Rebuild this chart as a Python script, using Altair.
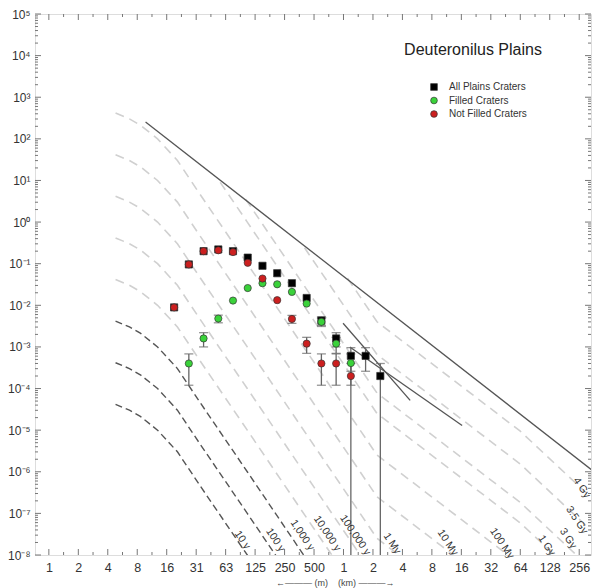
import altair as alt
import pandas as pd
import numpy as np

W, H = 556, 541
FONT = "Liberation Sans"

# ---------------- crater data ----------------
D_BINS = [0.0186, 0.0263, 0.0372, 0.0526, 0.0743, 0.1051, 0.1487, 0.2102,
          0.2973, 0.4204, 0.5946, 0.8409, 1.1892, 1.6818, 2.3784]   # km
ALL_N = [0.0089, 0.096, 0.20, 0.22, 0.20, 0.14, 0.089, 0.059, 0.034, 0.015,
         0.0043, 0.0016, 0.00061, 0.00061, 0.0002]
FILLED_N = [None, 0.0004, 0.0016, 0.0048, 0.013, 0.026, 0.034, 0.032, 0.021,
            0.011, 0.004, 0.0012, 0.00041, None, None]
NOTFILLED_N = [0.0089, 0.096, 0.20, 0.21, 0.19, 0.105, 0.044, 0.0133, 0.0047,
               0.0012, 0.0004, 0.0004, 0.0002, None, None]
SERIES = ["All Plains Craters", "Filled Craters", "Not Filled Craters"]

# error bars: (bin index, low, high); 1e-8 means the bar reaches the axis
ALL_ERR = [(10, 0.0033, 0.0053), (11, 0.0010, 0.0022), (12, 0.00026, 0.00096),
           (13, 0.00026, 0.00096), (14, 1e-8, 0.0004)]
FILLED_ERR = [(1, 0.00012, 0.00068), (2, 0.0010, 0.0022), (3, 0.0038, 0.0058),
              (10, 0.0031, 0.0049), (11, 0.0007, 0.0017), (12, 0.00012, 0.00068)]
NOTFILLED_ERR = [(8, 0.0037, 0.0057), (9, 0.0007, 0.0017), (10, 0.00012, 0.00068),
                 (11, 0.00012, 0.00068), (12, 1e-8, 0.0004)]

# ---------------- isochrons ----------------
ISO_D = [0.00469, 0.0065, 0.0084, 0.0126, 0.0201, 0.0346, 0.104, 0.5, 1.0,
         2.2, 10.0, 64.0, 338.0]                       # km
ISO_LOGN_1GY = [3.62, 3.48, 3.33, 3.0, 2.48, 1.65, 0.0, -2.37, -3.41,
                -4.60, -5.78, -7.23, -8.82]
ISO_NAMES = ["10 y", "100 y", "1,000 y", "10,000 y", "100,000 y", "1 My",
             "10 My", "100 My", "1 Gy", "3 Gy", "3.5 Gy", "4 Gy"]
ISO_FACTOR = [1e-8, 1e-7, 1e-6, 1e-5, 1e-4, 1e-3, 1e-2, 1e-1, 1.0, 3.1, 26.0, 160.0]
ISO_START = [0.00469] * 8 + [0.055, 0.1, 0.4, 1.1]
ISO_DARK = [True, True, True] + [False] * 9
ISO_LABEL_D = [0.0927, 0.2012, 0.379, 0.681, 1.317, 3.14, 11.6, 41.6, 119.0,
               197.0, 242.0, 272.0]
ISO_LABEL_N = [2.3e-8, 2.3e-8, 3.0e-8, 3.3e-8, 3.0e-8, 1.9e-8, 2.0e-8, 1.9e-8,
               1.7e-8, 2.5e-8, 6.9e-8, 4.1e-7]

# solid reference lines
SAT_D = [0.0095, 345.0]
SAT_N = [254.0, 1.1e-6]
LINE_A_D = [0.99, 4.8]
LINE_A_N = [0.0037, 5.2e-5]
LINE_B_D = [1.16, 16.3]
LINE_B_N = [0.001, 1.3e-5]

# axis ticks
X_TICKS = [2.0 ** k for k in range(-10, 9)]
X_LABELS = ["1", "2", "4", "8", "16", "31", "63", "125", "250", "500",
            "1", "2", "4", "8", "16", "32", "64", "128", "256"]
X_MINOR = [2.0 ** (k + 0.5) for k in range(-11, 9)]
Y_TICKS = [10.0 ** n for n in range(-8, 6)]
Y_SUP = ["⁻⁸", "⁻⁷", "⁻⁶", "⁻⁵", "⁻⁴", "⁻³", "⁻²", "⁻¹", "⁰", "¹", "²", "³", "⁴", "⁵"]
Y_MINOR = [m * 10.0 ** n for n in range(-8, 5) for m in range(2, 10)]

# ---------------- build tables ----------------
pts = []
for s, arr in zip(SERIES, [ALL_N, FILLED_N, NOTFILLED_N]):
    for d, n in zip(D_BINS, arr):
        if n is not None:
            pts.append({"series": s, "D": d, "N": n})
pts = pd.DataFrame(pts)

err = []
for errs in [ALL_ERR, FILLED_ERR, NOTFILLED_ERR]:
    for i, lo, hi in errs:
        err.append({"D": D_BINS[i], "lo": lo, "hi": hi})
err = pd.DataFrame(err)
caps = []
for _, r in err.iterrows():
    caps.append({"D": r["D"], "N": r["hi"]})
    if r["lo"] > 1e-8:
        caps.append({"D": r["D"], "N": r["lo"]})
caps = pd.DataFrame(caps)

iso = []
logd = np.log10(ISO_D)
for name, f, d0, dark in zip(ISO_NAMES, ISO_FACTOR, ISO_START, ISO_DARK):
    ds = [d0] + [d for d in ISO_D if d > d0 * 1.001]
    for k, d in enumerate(ds):
        ln = float(np.interp(np.log10(d), logd, ISO_LOGN_1GY))
        iso.append({"curve": name, "D": d, "N": f * 10 ** ln, "o": k,
                    "dark": "dark" if dark else "light"})
iso = pd.DataFrame(iso)

labels = pd.DataFrame({"t": ISO_NAMES, "D": ISO_LABEL_D, "N": ISO_LABEL_N})
solid = pd.DataFrame({
    "line": ["sat", "sat", "a", "a", "b", "b"],
    "D": SAT_D + LINE_A_D + LINE_B_D,
    "N": SAT_N + LINE_A_N + LINE_B_N,
})

xs = alt.Scale(type="log", base=2, domain=[2 ** -10.47, 2 ** 8.40], nice=False)
ys = alt.Scale(type="log", domain=[1e-8, 1e5], nice=False)

x_axis = alt.Axis(values=X_TICKS, ticks=False, domain=False, grid=False,
                  labelExpr="%s[round(log(datum.value)/LN2)+10]" % str(X_LABELS),
                  labelFont=FONT, labelFontSize=12.5, labelColor="#333",
                  labelPadding=6, labelOverlap=False, labelFlush=False, title=None)
y_axis = alt.Axis(values=Y_TICKS, ticks=False, domain=False, grid=False,
                  labelExpr="'10' + %s[round(log(datum.value)/LN10)+8]" % str(Y_SUP),
                  labelFont=FONT, labelFontSize=12, labelColor="#333",
                  labelPadding=5, labelOverlap=False, labelFlush=False, title=None)

X = alt.X("D:Q", scale=xs, axis=x_axis)
Y = alt.Y("N:Q", scale=ys, axis=y_axis)

iso_dark = alt.Chart(iso[iso.dark == "dark"]).mark_line(
    clip=True, color="#555", strokeWidth=1.4, strokeDash=[7, 4]
).encode(x=X, y=Y, detail="curve:N", order="o:Q")
iso_light = alt.Chart(iso[iso.dark == "light"]).mark_line(
    clip=True, color="#d0d0d0", strokeWidth=1.6, strokeDash=[9, 6]
).encode(x=X, y=Y, detail="curve:N", order="o:Q")

solid_lines = alt.Chart(solid).mark_line(
    clip=True, color="#555", strokeWidth=1.3
).encode(x=X, y=Y, detail="line:N")

err_rules = alt.Chart(err).mark_rule(clip=True, color="#666", strokeWidth=1.3).encode(
    x=X, y=alt.Y("lo:Q", scale=ys, axis=y_axis), y2="hi:Q")
err_caps = alt.Chart(caps).mark_tick(
    clip=True, color="#666", orient="horizontal", size=9, thickness=1.3
).encode(x=X, y=Y)

points = alt.Chart(pts).mark_point(
    filled=True, size=52, opacity=1, stroke="#333", strokeWidth=0.7
).encode(
    x=X, y=Y,
    color=alt.Color("series:N", scale=alt.Scale(domain=SERIES,
                    range=["#000000", "#3ad23a", "#cc1f1f"]),
                    legend=alt.Legend(title=None, orient="none", legendX=394, legendY=68,
                                      labelFont=FONT, labelFontSize=10, labelColor="#333",
                                      symbolSize=45, rowPadding=3.5, labelOffset=10,
                                      padding=0, symbolStrokeColor="#333",
                                      symbolStrokeWidth=0.7)),
    shape=alt.Shape("series:N", scale=alt.Scale(domain=SERIES,
                    range=["square", "circle", "circle"]), legend=None),
    order=alt.Order("o:Q"),
).transform_calculate(o="indexof(%s, datum.series)" % str(SERIES))

iso_text = alt.Chart(labels).mark_text(
    font=FONT, fontSize=10.5, color="#333", angle=56, align="center", baseline="middle"
).encode(x=X, y=Y, text="t:N")

title = alt.Chart(pd.DataFrame({"t": ["Deuteronilus Plains"]})).mark_text(
    font=FONT, fontSize=16, color="#222", align="center", baseline="alphabetic"
).encode(text="t:N", x=alt.value(438), y=alt.value(41))

units_l = alt.Chart(pd.DataFrame({"t": ["←——— (m)"]})).mark_text(
    font=FONT, fontSize=9, color="#444", align="right", baseline="middle"
).encode(text="t:N", x=alt.value(293), y=alt.value(569))
units_r = alt.Chart(pd.DataFrame({"t": ["(km) ———→"]})).mark_text(
    font=FONT, fontSize=9, color="#444", align="left", baseline="middle"
).encode(text="t:N", x=alt.value(303), y=alt.value(569))

# inward frame ticks
xt = pd.DataFrame({"D": X_TICKS})
xm = pd.DataFrame({"D": [v for v in X_MINOR if 2 ** -10.47 < v < 2 ** 8.4]})
yt = pd.DataFrame({"N": Y_TICKS})
ym = pd.DataFrame({"N": Y_MINOR})
TC = "#777"


def xticks(df, length):
    b = alt.Chart(df).mark_rule(color=TC, strokeWidth=1).encode(
        x=X, y=alt.value(H), y2=alt.value(H - length))
    t = alt.Chart(df).mark_rule(color=TC, strokeWidth=1).encode(
        x=X, y=alt.value(0), y2=alt.value(length))
    return b + t


def yticks(df, length):
    l = alt.Chart(df).mark_rule(color=TC, strokeWidth=1).encode(
        y=Y, x=alt.value(0), x2=alt.value(length))
    r = alt.Chart(df).mark_rule(color=TC, strokeWidth=1).encode(
        y=Y, x=alt.value(W), x2=alt.value(W - length))
    return l + r


chart = alt.layer(
    iso_light, iso_dark, solid_lines, err_rules, err_caps, points, iso_text,
    title, units_l, units_r,
    xticks(xt, 6), xticks(xm, 3), yticks(yt, 6), yticks(ym, 3),
).properties(
    width=W, height=H,
    autosize=alt.AutoSizeParams(type="none"),
    padding={"left": 35, "top": 14, "right": 2, "bottom": 33},
).configure_view(stroke="#7a7a7a", strokeWidth=1.6).configure(background="white")

chart.save("out.html", embed_options={"renderer": "svg", "actions": False})
